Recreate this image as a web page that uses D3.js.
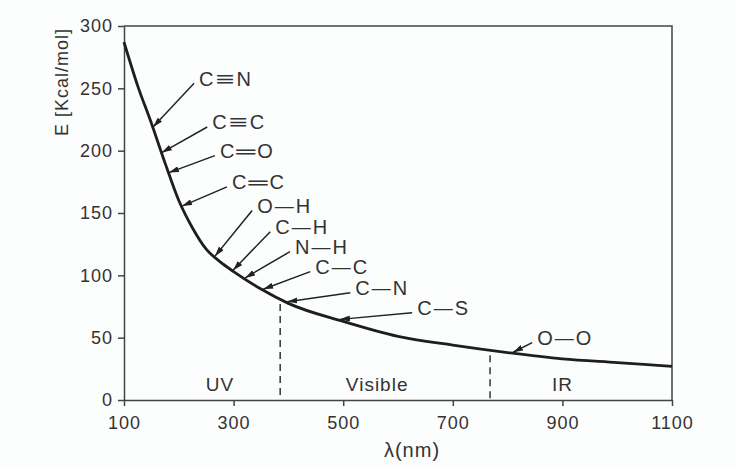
<!DOCTYPE html>
<html>
<head>
<meta charset="utf-8">
<script src="https://cdn.jsdelivr.net/npm/d3@7"></script>
<style>
  body { margin: 0; background: #fcfdfd; }
  svg text { font-family: "Liberation Sans", Arial, sans-serif; fill: #333; }
</style>
</head>
<body>
<figure id="chart" style="margin:0"></figure>
<script>
// curve (λ in nm, E in kcal/mol)
const wavelengths = [100, 125, 150, 175, 200, 225, 250, 275, 300, 350, 400, 500, 600, 700, 800, 900, 1000, 1100];
const energies = [287, 252, 222, 190, 160, 138, 121, 111, 103, 89, 77.5, 63, 51, 44, 38, 33, 30, 27];

const xTicks = [100, 300, 500, 700, 900, 1100];
const yTicks = [0, 50, 100, 150, 200, 250, 300];

// bonds: atoms, bond order, where the arrow hits the curve, and label anchor (data units)
const bondAtoms = [["C","N"],["C","C"],["C","O"],["C","C"],["O","H"],["C","H"],["N","H"],["C","C"],["C","N"],["C","S"],["O","O"]];
const bondOrder = [3, 3, 2, 2, 1, 1, 1, 1, 1, 1, 1];
const bondTipLambda = [153, 169, 182, 206, 266, 299, 321, 354, 398, 494, 810];
const bondLabelLambda = [237, 261, 275, 297, 343, 376, 412, 449, 522, 635, 854];
const bondLabelE = [258, 223, 200, 175, 156, 139, 123, 107, 90, 74, 50];

const regionNames = ["UV", "Visible", "IR"];
const regionCenters = [275, 562, 900];
const regionBounds = [385, 768];

const width = 735, height = 466;
const margin = {top: 26, right: 63, bottom: 66, left: 124};

const svg = d3.select("#chart").append("svg")
  .attr("width", width)
  .attr("height", height);

const x = d3.scaleLinear().domain([100, 1100]).range([margin.left, width - margin.right]);
const y = d3.scaleLinear().domain([0, 300]).range([height - margin.bottom, margin.top]);

const pts = wavelengths.map((w, i) => [w, energies[i]]);
// value on the drawn curve at a wavelength
const eAt = w => {
  const i = Math.max(1, d3.bisector(d => d[0]).left(pts, w));
  const a = pts[i - 1], b = pts[i];
  const t = (w - a[0]) / (b[0] - a[0]);
  return a[1] + t * (b[1] - a[1]);
};

// frame (top + right)
svg.append("path")
  .attr("d", `M${x(100)},${y(300)}H${x(1100)}V${y(0)}`)
  .attr("fill", "none")
  .attr("stroke", "#444")
  .attr("stroke-width", 1.5);

const yAxis = svg.append("g")
  .attr("transform", `translate(${margin.left},0)`)
  .call(d3.axisLeft(y).tickValues(yTicks).tickSize(6).tickSizeOuter(0).tickPadding(5));
const xAxis = svg.append("g")
  .attr("transform", `translate(0,${height - margin.bottom})`)
  .call(d3.axisBottom(x).tickValues(xTicks).tickFormat(d3.format("d")).tickSize(6).tickSizeOuter(0).tickPadding(6));

[yAxis, xAxis].forEach(g => {
  g.select(".domain").attr("stroke", "#444").attr("stroke-width", 1.5);
  g.selectAll(".tick line").attr("stroke", "#444").attr("stroke-width", 1.5);
  g.selectAll("text")
    .attr("fill", "#333")
    .style("font-family", "Liberation Sans, Arial, sans-serif")
    .style("font-size", "18px")
    .style("letter-spacing", "1px");
});
xAxis.selectAll("text").attr("dy", "0.95em");

// axis titles
svg.append("text")
  .attr("transform", `translate(62,${(y(300) + y(210)) / 2}) rotate(-90)`)
  .attr("text-anchor", "middle")
  .attr("dy", "0.35em")
  .style("font-size", "18px")
  .style("letter-spacing", "1px")
  .text("E [Kcal/mol]");

svg.append("text")
  .attr("x", 412)
  .attr("y", 457)
  .attr("text-anchor", "middle")
  .style("font-size", "20px")
  .style("letter-spacing", "1px")
  .text("λ(nm)");

// region dividers
svg.selectAll(".divider")
  .data(regionBounds)
  .enter()
  .append("line")
  .attr("x1", d => x(d)).attr("x2", d => x(d))
  .attr("y1", d => y(eAt(d)) + 5)
  .attr("y2", y(0))
  .attr("stroke", "#333")
  .attr("stroke-width", 1.5)
  .attr("stroke-dasharray", "7,5");

svg.selectAll(".region")
  .data(regionNames)
  .enter()
  .append("text")
  .attr("x", (d, i) => x(regionCenters[i]))
  .attr("y", y(0) - 9)
  .attr("text-anchor", "middle")
  .style("font-size", "19px")
  .style("letter-spacing", "1px")
  .text(d => d);

// the curve
const line = d3.line()
  .x(d => x(d[0]))
  .y(d => y(d[1]))
  .curve(d3.curveMonotoneX);

svg.append("path")
  .datum(pts)
  .attr("fill", "none")
  .attr("stroke", "#1e1e1e")
  .attr("stroke-width", 2.8)
  .attr("d", line);

// arrows
svg.append("defs").append("marker")
  .attr("id", "head")
  .attr("viewBox", "0 0 10 6")
  .attr("refX", 10).attr("refY", 3)
  .attr("markerWidth", 10).attr("markerHeight", 6)
  .attr("markerUnits", "userSpaceOnUse")
  .attr("orient", "auto")
  .append("path")
  .attr("d", "M0,0L10,3L0,6Z")
  .attr("fill", "#222");

const bondChar = ["", "\u2014", "\u2550", "\u2261"];

bondAtoms.forEach((atoms, i) => {
  const lx = x(bondLabelLambda[i]), ly = y(bondLabelE[i]);
  const tx = x(bondTipLambda[i]), ty = y(eAt(bondTipLambda[i])) - 1;
  svg.append("line")
    .attr("x1", lx - 5).attr("y1", ly + 5)
    .attr("x2", tx).attr("y2", ty)
    .attr("stroke", "#222")
    .attr("stroke-width", 1.5)
    .attr("marker-end", "url(#head)");

  const t = svg.append("text")
    .attr("x", lx)
    .attr("y", ly)
    .attr("dy", "0.36em")
    .style("font-size", "20px");
  t.append("tspan").text(atoms[0]);
  t.append("tspan")
    .attr("dx", 2)
    .attr("textLength", 19)
    .attr("lengthAdjust", "spacingAndGlyphs")
    .text(bondChar[bondOrder[i]]);
  t.append("tspan").attr("dx", 2).text(atoms[1]);
});
</script>
</body>
</html>
